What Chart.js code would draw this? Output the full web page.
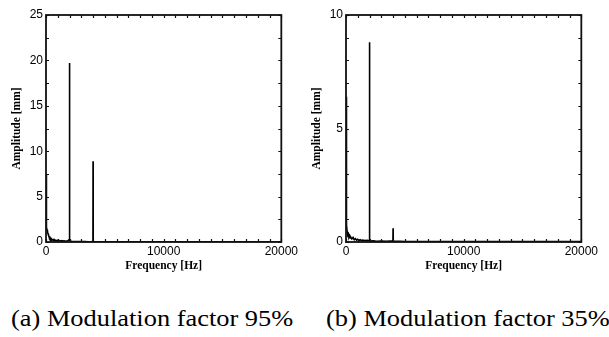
<!DOCTYPE html>
<html>
<head>
<meta charset="utf-8">
<script src="https://cdn.jsdelivr.net/npm/chart.js@4.4.1/dist/chart.umd.min.js"></script>
<style>
  html, body { margin: 0; padding: 0; background: #fff; }
  body { width: 609px; height: 337px; position: relative; overflow: hidden; }
  .panel { position: absolute; top: 0; width: 300px; height: 280px; }
  .cap {
    position: absolute; top: 306px; line-height: 24px;
    font-family: "Liberation Serif", "Times New Roman", serif; font-size: 24px; color: #000;
    white-space: nowrap; transform: scaleX(1.1); transform-origin: left center;
  }
</style>
</head>
<body>
<div class="panel" style="left:0"><canvas id="chartA"></canvas></div>
<div class="panel" style="left:300px"><canvas id="chartB"></canvas></div>
<div class="cap" style="left:11px">(a) Modulation factor 95%</div>
<div class="cap" style="left:326px">(b) Modulation factor 35%</div>

<script>
// espectro (a) — factor de modulación 95%
const freqA = [0, 10, 20, 35, 50, 70, 100, 130, 170, 210, 260, 300, 340, 400, 450, 520, 600, 680, 760, 850,
  950, 1050, 1150, 1250, 1350, 1450, 1550, 1650, 1750, 1850, 1950, 1990, 2000, 2010, 2060, 2200, 2400, 2600,
  2800, 3000, 3300, 3600, 3900, 3990, 4000, 4010, 4100, 4400, 5000, 6000, 7000, 8000, 10000, 12000, 14000,
  16000, 18000, 20000];
const ampA = [7.5, 3.3, 2.6, 2.3, 2.0, 1.6, 1.3, 1.1, 0.9, 0.75, 0.6, 0.45, 0.5, 0.3, 0.35, 0.2, 0.28, 0.15, 0.22, 0.12,
  0.2, 0.1, 0.16, 0.08, 0.14, 0.1, 0.12, 0.07, 0.1, 0.12, 0.25, 0.3, 19.7, 0.3, 0.1, 0.06, 0.05, 0.04,
  0.05, 0.04, 0.04, 0.03, 0.04, 0.05, 8.9, 0.05, 0.03, 0.03, 0.02, 0.02, 0.02, 0.02, 0.02, 0.02, 0.02,
  0.02, 0.02, 0.02];

// espectro (b) — factor de modulación 35%
const freqB = [0, 10, 20, 30, 45, 60, 80, 100, 130, 160, 200, 250, 300, 350, 400, 500, 600, 700, 800, 900,
  1000, 1100, 1200, 1300, 1400, 1600, 1800, 1950, 1990, 2000, 2010, 2100, 2300, 2600, 3000, 3400, 3800,
  3990, 4000, 4010, 4200, 4600, 5000, 6000, 8000, 10000, 12000, 14000, 16000, 18000, 20000];
const ampB = [6.4, 3.7, 1.6, 1.0, 0.9, 0.6, 0.75, 0.45, 0.4, 0.3, 0.35, 0.22, 0.28, 0.18, 0.22, 0.14, 0.2, 0.1, 0.15, 0.08,
  0.12, 0.07, 0.1, 0.06, 0.08, 0.06, 0.07, 0.05, 0.06, 8.8, 0.06, 0.04, 0.05, 0.03, 0.04, 0.03, 0.04,
  0.04, 0.6, 0.04, 0.03, 0.03, 0.02, 0.02, 0.02, 0.02, 0.02, 0.02, 0.02, 0.02, 0.02];

const etiquetasX = [0, 10000, 20000];

// marcas hacia adentro en los 4 lados + recuadro
const marcoTicks = {
  id: 'marcoTicks',
  afterDatasetsDraw(chart) {
    const { ctx, chartArea: a, scales: { x, y } } = chart;
    const L = 3;
    ctx.save();
    ctx.strokeStyle = '#111';
    ctx.lineWidth = 1.2;
    ctx.beginPath();
    x.ticks.forEach(t => {
      const px = Math.round(x.getPixelForValue(t.value)) + 0.5;
      ctx.moveTo(px, a.bottom); ctx.lineTo(px, a.bottom - L);
      ctx.moveTo(px, a.top); ctx.lineTo(px, a.top + L);
    });
    y.ticks.forEach(t => {
      const py = Math.round(y.getPixelForValue(t.value)) + 0.5;
      ctx.moveTo(a.left, py); ctx.lineTo(a.left + L, py);
      ctx.moveTo(a.right, py); ctx.lineTo(a.right - L, py);
    });
    ctx.stroke();
    ctx.lineWidth = 1.8;
    ctx.strokeRect(a.left, a.top, a.right - a.left, a.bottom - a.top);
    ctx.restore();
  }
};

function crearEspectro(id, freqs, amps, yMax, yPaso) {
  const puntos = freqs.map((f, i) => ({ x: f, y: amps[i] }));
  return new Chart(document.getElementById(id), {
    type: 'line',
    data: {
      datasets: [{
        data: puntos,
        borderColor: '#000',
        borderWidth: 1.6,
        pointRadius: 0,
        tension: 0,
        fill: false
      }]
    },
    options: {
      responsive: true,
      maintainAspectRatio: false,
      animation: false,
      events: [],
      layout: { padding: { top: 15, right: 18, left: 0, bottom: 0 } },
      plugins: { legend: { display: false }, tooltip: { enabled: false } },
      scales: {
        x: {
          type: 'linear', min: 0, max: 20000,
          grid: { display: false, drawTicks: false },
          border: { display: false },
          ticks: {
            stepSize: 1000, autoSkip: false, maxRotation: 0, padding: 2,
            color: '#000', font: { family: 'Liberation Sans', size: 12 },
            callback: v => etiquetasX.includes(v) ? String(v) : ''
          },
          title: {
            display: true, text: 'Frequency [Hz]', color: '#000',
            font: { family: 'Liberation Serif', size: 11.5, weight: 'bold' },
            padding: { top: 0, bottom: 7 }
          },
          afterFit: s => { s.height = 38; }
        },
        y: {
          min: 0, max: yMax,
          grid: { display: false, drawTicks: false },
          border: { display: false },
          ticks: {
            stepSize: yPaso, autoSkip: false, padding: 3,
            color: '#000', font: { family: 'Liberation Sans', size: 12 },
            callback: v => v % 5 === 0 ? String(v) : ''
          },
          title: {
            display: true, text: 'Amplitude [mm]', color: '#000',
            font: { family: 'Liberation Serif', size: 11.5, weight: 'bold' },
            padding: { top: 10, bottom: 0 }
          },
          afterFit: s => { s.width = 46; }
        }
      }
    },
    plugins: [marcoTicks]
  });
}

crearEspectro('chartA', freqA, ampA, 25, 2.5);
crearEspectro('chartB', freqB, ampB, 10, 1);
</script>
</body>
</html>
